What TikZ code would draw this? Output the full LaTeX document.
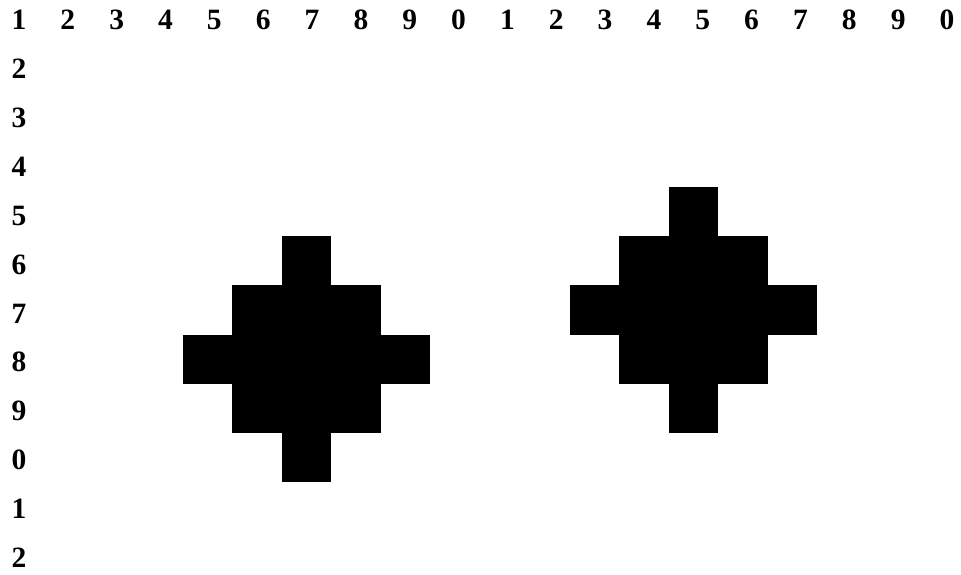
\documentclass[tikz,border=0pt]{standalone}
\usepackage{fontspec}
\setmainfont{Liberation Serif}
\begin{document}
\begin{tikzpicture}[x=1pt,y=-1pt,
  lbl/.style={font=\bfseries\fontsize{29.5}{30}\selectfont,inner sep=0pt},
  pix/.style={fill=black}]
\useasboundingbox (0,0) rectangle (961,575);
% column numbers
\foreach \c [evaluate=\c as \d using {int(mod(\c,10))}] in {1,...,20}
  \node[lbl] (col\c) at ({19+(\c-1)*48.84},20) {\d};
% row numbers
\foreach \r [evaluate=\r as \d using {int(mod(\r,10))}] in {2,...,12}
  \node[lbl] (row\r) at (19,{20+(\r-1)*48.9}) {\d};
% filled cells: first column / row / run length
\foreach \c/\r/\w in {7/6/1, 6/7/3, 5/8/5, 6/9/3, 7/10/1}
  \fill[pix] ({183+(\c-5)*49.4},{187+(\r-5)*49.2}) rectangle ++({\w*49.4},49.2);
\foreach \c/\r/\w in {15/5/1, 14/6/3, 13/7/5, 14/8/3, 15/9/1}
  \fill[pix] ({570+(\c-13)*49.4},{187+(\r-5)*49.2}) rectangle ++({\w*49.4},49.2);
\end{tikzpicture}
\end{document}
